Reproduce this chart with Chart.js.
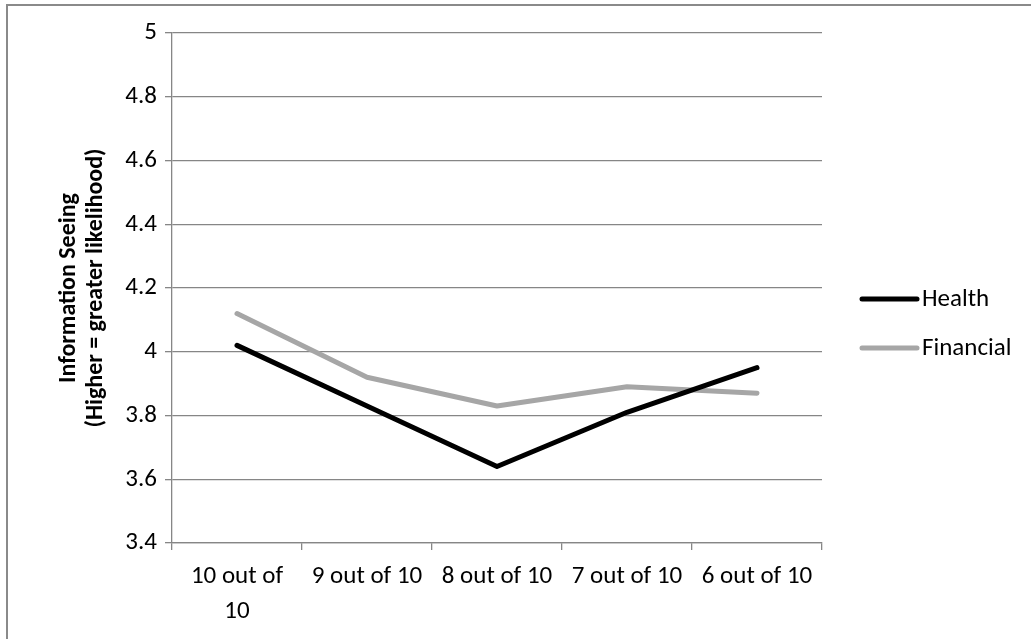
<!DOCTYPE html>
<html>
<head>
<meta charset="utf-8">
<script src="https://cdn.jsdelivr.net/npm/chart.js@4/dist/chart.umd.min.js"></script>
<style>
  html, body { margin: 0; padding: 0; background: #fff; }
  #wrap { position: relative; width: 1031px; height: 639px; }
  canvas { display: block; }
</style>
</head>
<body>
<div id="wrap"><canvas id="c" width="1031" height="639"></canvas></div>
<script>
// Categories and series
const categories = ['10 out of 10', '9 out of 10', '8 out of 10', '7 out of 10', '6 out of 10'];
const healthValues = [4.02, 3.83, 3.64, 3.81, 3.95];
const financialValues = [4.12, 3.92, 3.83, 3.89, 3.87];
const seriesNames = ['Health', 'Financial'];
const yTitleLines = ['Information Seeing', '(Higher = greater likelihood)'];

const FONT = 'Carlito, Lato, "Open Sans", sans-serif';
const TEXT_SIZE = 25;
const AXIS_GREY = '#868686';

// Category labels wrap into lines when wider than a category slot
function wrapLabel(ctx, text, maxWidth) {
  const words = text.split(' ');
  const lines = [];
  let line = '';
  for (const w of words) {
    const test = line ? line + ' ' + w : w;
    if (ctx.measureText(test).width > maxWidth && line) {
      lines.push(line);
      line = w;
    } else {
      line = test;
    }
  }
  if (line) lines.push(line);
  return lines;
}

const measureCtx = document.createElement('canvas').getContext('2d');
measureCtx.font = TEXT_SIZE + 'px ' + FONT;
const wrappedCategories = categories.map(c => wrapLabel(measureCtx, c, 122));

// Outer frame of the chart
const framePlugin = {
  id: 'frame',
  beforeDraw(chart) {
    const ctx = chart.ctx;
    ctx.save();
    ctx.strokeStyle = '#8a8a8a';
    ctx.lineWidth = 2;
    ctx.beginPath();
    ctx.moveTo(7, chart.height + 5);
    ctx.lineTo(7, 5);
    ctx.lineTo(chart.width + 5, 5);
    ctx.stroke();
    ctx.restore();
  }
};

// Legend drawn at the right of the plot
const sideLegend = {
  id: 'sideLegend',
  afterDraw(chart) {
    const ctx = chart.ctx;
    const area = chart.chartArea;
    const x0 = area.right + 40;
    const x1 = area.right + 95;
    const rows = [299, 348];
    ctx.save();
    chart.data.datasets.forEach((ds, i) => {
      const y = rows[i];
      ctx.strokeStyle = ds.borderColor;
      ctx.lineWidth = ds.borderWidth;
      ctx.lineCap = 'round';
      ctx.beginPath();
      ctx.moveTo(x0, y);
      ctx.lineTo(x1, y);
      ctx.stroke();
      ctx.fillStyle = '#000';
      ctx.font = TEXT_SIZE + 'px ' + FONT;
      ctx.textBaseline = 'middle';
      ctx.textAlign = 'left';
      ctx.fillText(ds.label, x1 + 5, y + 1);
    });
    ctx.restore();
  }
};

new Chart(document.getElementById('c'), {
  type: 'line',
  data: {
    labels: wrappedCategories,
    datasets: [
      {
        label: seriesNames[0],
        data: healthValues,
        borderColor: '#000000',
        backgroundColor: '#000000',
        borderWidth: 5,
        borderCapStyle: 'round',
        borderJoinStyle: 'round',
        pointRadius: 0,
        tension: 0
      },
      {
        label: seriesNames[1],
        data: financialValues,
        borderColor: '#a6a6a6',
        backgroundColor: '#a6a6a6',
        borderWidth: 5,
        borderCapStyle: 'round',
        borderJoinStyle: 'round',
        pointRadius: 0,
        tension: 0
      }
    ]
  },
  options: {
    responsive: false,
    animation: false,
    devicePixelRatio: 1,
    layout: { padding: { left: 10, top: 33, right: 209, bottom: 0 } },
    plugins: {
      legend: { display: false },
      tooltip: { enabled: false }
    },
    scales: {
      x: {
        type: 'category',
        offset: true,
        grid: {
          offset: true,
          drawOnChartArea: false,
          drawTicks: true,
          tickLength: 7,
          color: AXIS_GREY,
          lineWidth: 1.3
        },
        border: { color: AXIS_GREY, width: 1.3 },
        ticks: {
          color: '#000',
          font: { family: FONT, size: TEXT_SIZE, lineHeight: 1.4 },
          padding: 9,
          maxRotation: 0,
          autoSkip: false
        },
        afterFit(scale) { scale.height = 96; }
      },
      y: {
        min: 3.4,
        max: 5,
        ticks: {
          stepSize: 0.2,
          color: '#000',
          font: { family: FONT, size: TEXT_SIZE },
          padding: 8,
          callback: v => String(Number(v.toFixed(1)))
        },
        grid: {
          color: AXIS_GREY,
          lineWidth: 1.3,
          tickLength: 7
        },
        border: { color: AXIS_GREY, width: 1.3 },
        title: {
          display: true,
          text: yTitleLines,
          color: '#000',
          font: { family: FONT, size: 24, weight: 'bold', lineHeight: 1.1 },
          padding: { top: 46, bottom: 0 }
        },
        afterFit(scale) { scale.width = 162; }
      }
    }
  },
  plugins: [framePlugin, sideLegend]
});
</script>
</body>
</html>
